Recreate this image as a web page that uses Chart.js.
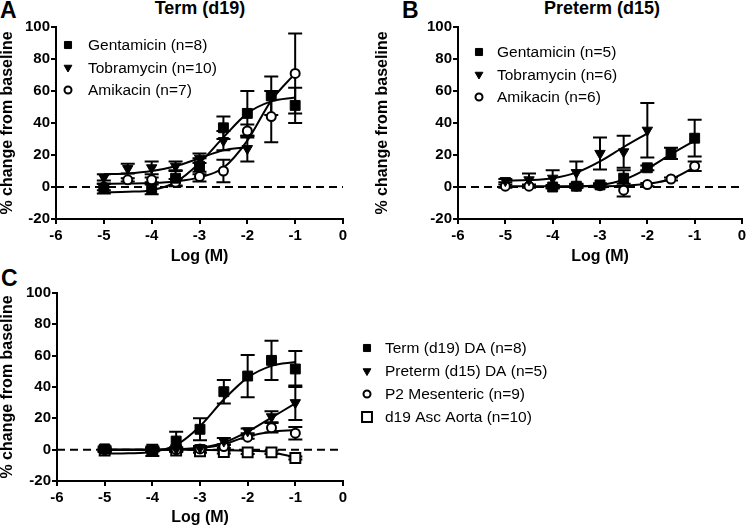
<!DOCTYPE html>
<html>
<head>
<meta charset="utf-8">
<script src="https://cdn.jsdelivr.net/npm/chart.js@4.4.1/dist/chart.umd.min.js"></script>
<style>
  body { margin: 0; background: #fff; width: 750px; height: 526px; position: relative; overflow: hidden; font-family: "Liberation Sans", Arial, sans-serif; }
  canvas { position: absolute; }
  .lbl { position: absolute; font-weight: bold; color: #000; white-space: nowrap; line-height: 1; }
</style>
</head>
<body>
<div class="lbl" style="left:0;top:-1px;font-size:23px">A</div>
<div class="lbl" style="left:100px;top:-1px;width:200px;text-align:center;font-size:18px">Term (d19)</div>
<div class="lbl" style="left:402px;top:-1px;font-size:23px">B</div>
<div class="lbl" style="left:502px;top:-1px;width:200px;text-align:center;font-size:18px">Preterm (d15)</div>
<div class="lbl" style="left:1px;top:267px;font-size:23px">C</div>

<canvas id="chartA" width="375" height="265" style="left:0;top:0"></canvas>
<canvas id="chartB" width="375" height="265" style="left:375px;top:0"></canvas>
<canvas id="chartC" width="750" height="266" style="left:0;top:260px"></canvas>

<script>
// x = log molar concentration, y = % change from baseline (mean, SEM)
const X_MIN = -6;
const X_MAX = 0;

// Panel A - Term (d19)
const termGentX = [-5, -4, -3.5, -3, -2.5, -2, -1.5, -1];
const termGentY = [-1, -1.5, 5.5, 13, 37, 46, 57, 51];
const termGentErr = [3, 3, 5, 5, 7, 14, 12, 11];
const termGentFitX = [-5, -4.5, -4, -3.5, -3, -2.5, -2, -1.5, -1];
const termGentFitY = [-3.3, -3, -2, 3, 15, 31, 46, 53.5, 56];

const termTobraX = [-5, -4.5, -4, -3.5, -3, -2.5, -2];
const termTobraY = [6, 11.5, 12, 13, 18, 29, 24];
const termTobraErr = [2, 3, 4, 3, 3, 6, 8];
const termTobraFitX = [-5, -4.5, -4, -3.5, -3, -2.5, -2];
const termTobraFitY = [8, 8.5, 10, 13, 18, 23, 25];

const termAmikX = [-5, -4.5, -4, -3.5, -3, -2.5, -2, -1.5, -1];
const termAmikY = [0, 4.5, 4.5, 3, 6.5, 10, 35, 44, 71];
const termAmikErr = [2, 1, 1.5, 2, 3, 7, 4, 16, 25];
const termAmikFitX = [-5, -4.5, -4, -3.5, -3, -2.5, -2, -1.5, -1];
const termAmikFitY = [2, 2.2, 2.5, 3.5, 6, 12, 29, 54, 71];

// Panel B - Preterm (d15)
const preGentX = [-4, -3.5, -3, -2.5, -2, -1.5, -1];
const preGentY = [0, 0.5, 1.3, 5.5, 12, 21, 30.5];
const preGentErr = [1, 1, 1, 5, 1.5, 3.5, 11.5];
const preGentFitX = [-4, -3.5, -3, -2.5, -2, -1.5, -1];
const preGentFitY = [0, 0.3, 1.2, 4.5, 11.5, 20.5, 29];

const preTobraX = [-5, -4.5, -4, -3.5, -3, -2.5, -2];
const preTobraY = [4, 4.5, 5.5, 9, 21, 22, 35.5];
const preTobraErr = [1, 4, 5, 7, 10, 10, 17];
const preTobraFitX = [-5, -4.5, -4, -3.5, -3, -2.5, -2];
const preTobraFitY = [4, 4.3, 5.5, 9, 16, 25, 33.5];

const preAmikX = [-5, -4.5, -4, -3.5, -3, -2.5, -2, -1.5, -1];
const preAmikY = [0.5, 0.5, 0.3, 0.5, 0.8, -2, 1.5, 5, 13];
const preAmikErr = [1, 1, 1, 1, 1, 4, 1, 1, 3];
const preAmikFitX = [-5, -4, -3, -2.5, -2, -1.5, -1];
const preAmikFitY = [0.5, 0.5, 0.5, 0.8, 2, 5, 12.5];

// Panel C - comparison of vessels
const cTermX = [-5, -4, -3.5, -3, -2.5, -2, -1.5, -1];
const cTermY = [0.5, -1, 5.5, 13, 37, 47, 57, 51.5];
const cTermErr = [1.5, 3, 6, 7, 7.5, 13.5, 12.5, 11.5];
const cTermFitX = [-5, -4.5, -4, -3.5, -3, -2.5, -2, -1.5, -1];
const cTermFitY = [-2.5, -2.3, -1.5, 3, 15, 32, 46, 53.5, 56];

const cPreX = [-4, -3.5, -3, -2.5, -2, -1.5, -1];
const cPreY = [0, 0.5, 1.3, 5.5, 12, 21, 30];
const cPreErr = [1, 1, 1, 2, 1.5, 3.5, 11];
const cPreFitX = [-5, -4, -3.5, -3, -2.5, -2, -1.5, -1];
const cPreFitY = [0, 0, 0.3, 1.2, 4.5, 11.5, 20.5, 29.5];

const cMesX = [-5, -4, -3.5, -3, -2.5, -2, -1.5, -1];
const cMesY = [0, 0, 0, 0.5, 2, 8, 14, 10.5];
const cMesErr = [1, 1, 1, 1, 1, 1, 3, 4];
const cMesFitX = [-5, -4, -3.5, -3, -2.5, -2, -1.5, -1];
const cMesFitY = [0, 0, 0.2, 1, 3.5, 8.5, 11.5, 12.5];

const cAortaX = [-5, -4, -3.5, -3, -2.5, -2, -1.5, -1];
const cAortaY = [-0.5, 0, -0.5, -1, -1.5, -1.7, -1.7, -5.3];
const cAortaErr = [1, 1, 1, 1, 1, 1, 1, 1];
const cAortaFitX = [-5, -4, -3, -2.5, -2, -1.5, -1];
const cAortaFitY = [0, 0, -0.2, -0.3, -0.6, -1.6, -5];

const SQUARE = { shape: 'rect', rotation: 0, radius: 7, fill: '#000', border: 1, legendRadius: 5 };
const TRIANGLE = { shape: 'triangle', rotation: 180, radius: 6, fill: '#000', border: 1, legendRadius: 4.5 };
const CIRCLE = { shape: 'circle', rotation: 0, radius: 4.5, fill: '#fff', border: 2, legendRadius: 3.5 };
const OPEN_SQUARE = { shape: 'rect', rotation: 0, radius: 7, fill: '#fff', border: 2, legendRadius: 7 };

const CAP = 7;

const toPoints = (xs, ys) => xs.map((x, i) => ({ x, y: ys[i] }));

const pointSet = (label, xs, ys, errs, style) => ({
  label,
  data: toPoints(xs, ys),
  errors: errs,
  showLine: false,
  order: 0,
  pointStyle: style.shape,
  pointRotation: style.rotation,
  pointRadius: style.radius,
  pointHoverRadius: style.radius,
  pointBackgroundColor: style.fill,
  pointBorderColor: '#000',
  pointBorderWidth: style.border,
  legendRadius: style.legendRadius,
});

const curveSet = (xs, ys) => ({
  data: toPoints(xs, ys),
  showLine: true,
  borderColor: '#000',
  borderWidth: 2,
  pointRadius: 0,
  cubicInterpolationMode: 'monotone',
  order: 1,
});

const baselineSet = () => ({
  data: [{ x: X_MIN, y: 0 }, { x: X_MAX, y: 0 }],
  showLine: true,
  borderColor: '#000',
  borderWidth: 2,
  borderDash: [8, 5],
  pointRadius: 0,
  order: 2,
});

const errorBars = {
  id: 'errorBars',
  beforeDatasetsDraw(chart) {
    const { ctx, scales: { x, y } } = chart;
    ctx.save();
    ctx.strokeStyle = '#000';
    ctx.lineWidth = 2;
    chart.data.datasets.forEach((ds) => {
      if (!ds.errors) return;
      ds.data.forEach((p, i) => {
        const e = ds.errors[i];
        const px = x.getPixelForValue(p.x);
        const top = y.getPixelForValue(p.y + e);
        const bot = y.getPixelForValue(p.y - e);
        ctx.beginPath();
        ctx.moveTo(px, top);
        ctx.lineTo(px, bot);
        ctx.moveTo(px - CAP, top);
        ctx.lineTo(px + CAP, top);
        ctx.moveTo(px - CAP, bot);
        ctx.lineTo(px + CAP, bot);
        ctx.stroke();
      });
    });
    ctx.restore();
  },
};

// legend drawn at a fixed offset from the plot area
const insetLegend = {
  id: 'insetLegend',
  afterDraw(chart, args, opts) {
    const { ctx, chartArea } = chart;
    const mx = chartArea.left + opts.left;
    let y = chartArea.top + opts.top;
    ctx.save();
    ctx.font = '15.5px "Liberation Sans", Arial, sans-serif';
    ctx.textBaseline = 'middle';
    chart.data.datasets.forEach((ds) => {
      if (!ds.label) return;
      ctx.fillStyle = ds.pointBackgroundColor;
      ctx.strokeStyle = '#000';
      ctx.lineWidth = ds.pointBorderWidth;
      Chart.helpers.drawPoint(ctx, {
        pointStyle: ds.pointStyle,
        rotation: ds.pointRotation,
        radius: ds.legendRadius,
        borderWidth: ds.pointBorderWidth,
      }, mx, y);
      ctx.fillStyle = '#000';
      ctx.fillText(ds.label, mx + opts.gap, y + 1);
      y += opts.row;
    });
    ctx.restore();
  },
};

const tickFont = { family: '"Liberation Sans", Arial, sans-serif', size: 15, weight: 'bold' };
const titleFont = { family: '"Liberation Sans", Arial, sans-serif', size: 16, weight: 'bold', lineHeight: 1 };

const makeScales = (yWidth, xHeight) => ({
  x: {
    type: 'linear',
    min: X_MIN,
    max: X_MAX,
    ticks: { stepSize: 1, color: '#000', font: tickFont, padding: 3 },
    grid: { drawOnChartArea: false, color: '#000', lineWidth: 2, tickLength: 5 },
    border: { color: '#000', width: 2 },
    title: { display: true, text: 'Log (M)', color: '#000', font: titleFont, padding: 0 },
    afterFit: (s) => { s.height = xHeight; },
  },
  y: {
    min: -20,
    max: 100,
    ticks: { stepSize: 20, color: '#000', font: tickFont, padding: 1 },
    grid: { drawOnChartArea: false, color: '#000', lineWidth: 2, tickLength: 5 },
    border: { color: '#000', width: 2 },
    title: { display: true, text: '% change from baseline', color: '#000', font: titleFont, padding: 0 },
    afterFit: (s) => { s.width = yWidth; },
  },
});

const makeChart = (id, datasets, geom, legend) => new Chart(document.getElementById(id), {
  type: 'scatter',
  data: { datasets },
  options: {
    responsive: false,
    animation: false,
    layout: { padding: { top: geom.top, right: geom.right, bottom: 0, left: 0 } },
    scales: makeScales(geom.yWidth, geom.xHeight),
    plugins: {
      legend: { display: false },
      tooltip: { enabled: false },
      insetLegend: legend,
    },
  },
  plugins: [errorBars, insetLegend],
});

makeChart('chartA', [
  pointSet('Gentamicin (n=8)', termGentX, termGentY, termGentErr, SQUARE),
  pointSet('Tobramycin (n=10)', termTobraX, termTobraY, termTobraErr, TRIANGLE),
  pointSet('Amikacin (n=7)', termAmikX, termAmikY, termAmikErr, CIRCLE),
  curveSet(termGentFitX, termGentFitY),
  curveSet(termTobraFitX, termTobraFitY),
  curveSet(termAmikFitX, termAmikFitY),
  baselineSet(),
], { top: 27, right: 32, yWidth: 56, xHeight: 46 }, { left: 12, top: 18, gap: 20, row: 22.5 });

makeChart('chartB', [
  pointSet('Gentamicin (n=5)', preGentX, preGentY, preGentErr, SQUARE),
  pointSet('Tobramycin (n=6)', preTobraX, preTobraY, preTobraErr, TRIANGLE),
  pointSet('Amikacin (n=6)', preAmikX, preAmikY, preAmikErr, CIRCLE),
  curveSet(preGentFitX, preGentFitY),
  curveSet(preTobraFitX, preTobraFitY),
  curveSet(preAmikFitX, preAmikFitY),
  baselineSet(),
], { top: 27, right: 4, yWidth: 83, xHeight: 46 }, { left: 21, top: 25, gap: 18, row: 22.5 });

makeChart('chartC', [
  pointSet('Term (d19) DA (n=8)', cTermX, cTermY, cTermErr, SQUARE),
  pointSet('Preterm (d15) DA (n=5)', cPreX, cPreY, cPreErr, TRIANGLE),
  pointSet('P2 Mesenteric (n=9)', cMesX, cMesY, cMesErr, CIRCLE),
  pointSet('d19 Asc Aorta (n=10)', cAortaX, cAortaY, cAortaErr, OPEN_SQUARE),
  curveSet(cTermFitX, cTermFitY),
  curveSet(cPreFitX, cPreFitY),
  curveSet(cMesFitX, cMesFitY),
  curveSet(cAortaFitX, cAortaFitY),
  baselineSet(),
], { top: 33, right: 407, yWidth: 57, xHeight: 45 }, { left: 310, top: 55, gap: 18, row: 23 });
</script>
</body>
</html>
